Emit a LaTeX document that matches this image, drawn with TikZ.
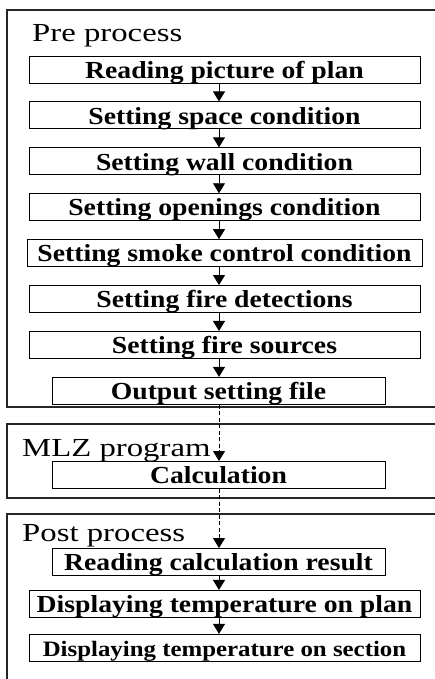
\documentclass[tikz,border=0pt]{standalone}
\usepackage{fontspec}
\newfontfamily\titlefont{Liberation Serif}[FakeStretch=1.26]
\newfontfamily\stepfont{Liberation Serif}[FakeStretch=1.13]
\usetikzlibrary{arrows.meta,positioning}

\begin{document}
\begin{tikzpicture}[
  x=1pt, y=-1pt,
  node distance=18pt,
  panel/.style={line width=1.2pt, draw=black!85},
  title/.style={inner sep=0pt, anchor=base west, font=\titlefont\fontsize{26}{26}\selectfont},
  stepbox/.style={rectangle, draw, line width=0.9pt, inner sep=0pt, minimum width=391pt, minimum height=27pt,
    text height=17.5pt, text depth=0pt, font=\stepfont\bfseries\fontsize{24.5}{24.5}\selectfont},
  narrow/.style={stepbox, minimum width=333pt},
  flow/.style={-{Triangle[width=12pt,length=10pt]}, line width=0.9pt},
  dflow/.style={flow, dash pattern=on 4pt off 2.5pt}
]
  \useasboundingbox (0,0) rectangle (435,679);

  % panels, open on the right
  \draw[panel] (435,10) -- (7,10) -- (7,407) -- (435,407);
  \draw[panel] (435,424) -- (7,424) -- (7,498) -- (435,498);
  \draw[panel] (435,514) -- (7,514) -- (7,679);

  \node[title] (pre) at (32,42) {Pre process};
  \node[title] (mlz) at (22,456) {MLZ program};
  \node[title] (post) at (22,541) {Post process};

  % pre process steps
  \node[stepbox] (b1) at (224.5,69.5) {Reading picture of plan};
  \node[stepbox] (b2) [below=of b1] {Setting space condition};
  \node[stepbox] (b3) [below=of b2] {Setting wall condition};
  \node[stepbox] (b4) [below=of b3] {Setting openings condition};
  \node[stepbox, minimum width=395pt] (b5) [below=of b4] {Setting smoke control condition};
  \node[stepbox] (b6) [below=of b5] {Setting fire detections};
  \node[stepbox] (b7) [below=of b6] {Setting fire sources};
  \node[narrow] (b8) [below=of b7, xshift=-6pt] {Output setting file};

  % program and post process
  \node[narrow] (calc) at (218.5,475) {Calculation};
  \node[narrow] (res) at (218.5,562) {Reading calculation result};
  \node[stepbox] (plan) [below=14pt of res, xshift=6pt] {Displaying temperature on plan};
  \node[stepbox, font=\stepfont\bfseries\fontsize{22}{22}\selectfont] (sec) [below=16pt of plan] {Displaying temperature on section};

  \coordinate (axis) at (219,0);
  \foreach \from/\to in {b1/b2, b2/b3, b3/b4, b4/b5, b5/b6, b6/b7, b7/b8, res/plan, plan/sec}
    \draw[flow] (\from.south -| axis) -- (\to.north -| axis);
  \foreach \from/\to in {b8/calc, calc/res}
    \draw[dflow] (\from.south -| axis) -- (\to.north -| axis);
\end{tikzpicture}
\end{document}
